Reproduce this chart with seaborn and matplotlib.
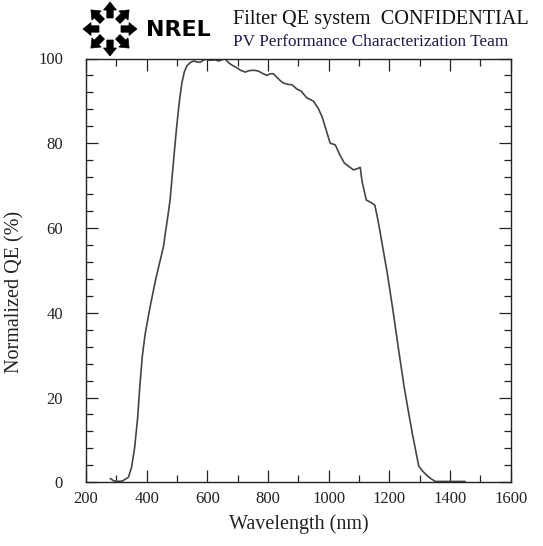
import numpy as np
import pandas as pd
import matplotlib
matplotlib.use("Agg")
import matplotlib.pyplot as plt
from matplotlib.patches import Polygon
from matplotlib.ticker import MultipleLocator
import seaborn as sns

# ---- data ----
wavelength_nm = [280, 290, 300, 320, 340, 350, 360, 370, 378, 386, 395, 411, 430, 455,
                 471, 477, 490, 499, 508, 516, 524, 532, 543, 554, 565, 576, 587, 598,
                 606, 615, 626, 637, 648, 659, 670, 680, 697, 710, 725, 736, 747, 758,
                 769, 782, 796, 807, 818, 830, 840, 851, 865, 879, 895, 909, 928, 940,
                 950, 965, 978, 990, 1005, 1015, 1022, 1035, 1051, 1065, 1082, 1094,
                 1104, 1110, 1124, 1140, 1152, 1162, 1172, 1193, 1211, 1230, 1249, 1262,
                 1276, 1297, 1310, 1324, 1338, 1352, 1400, 1450]
qe_percent = [0.9, 0.4, 0.2, 0.3, 1.2, 3.5, 8.0, 15.0, 23.2, 30.0, 35.0, 41.3, 48.0, 55.5,
              63.4, 66.5, 77.0, 84.0, 90.0, 94.2, 96.8, 98.2, 99.0, 99.4, 99.2, 99.1, 99.6, 99.9,
              99.6, 99.6, 99.7, 99.4, 99.7, 99.9, 99.0, 98.5, 97.8, 97.2, 96.8, 97.1, 97.2, 97.2,
              97.0, 96.5, 96.0, 96.4, 96.4, 95.5, 94.8, 94.2, 93.9, 93.8, 92.8, 92.3, 90.7, 90.3,
              89.9, 88.3, 86.3, 83.5, 80.0, 79.8, 79.6, 77.5, 75.4, 74.6, 73.7, 74.0,
              74.3, 71.0, 66.6, 66.0, 65.4, 62.0, 58.0, 49.4, 41.0, 31.5, 22.4, 17.0,
              11.4, 3.8, 2.6, 1.6, 0.8, 0.2, 0.2, 0.2]
x_ticks = [200, 400, 600, 800, 1000, 1200, 1400, 1600]
y_ticks = [0, 20, 40, 60, 80, 100]
title_line1 = "Filter QE system  CONFIDENTIAL"
title_line2 = "PV Performance Characterization Team"
logo_text = "NREL"

df = pd.DataFrame({"Wavelength (nm)": wavelength_nm, "Normalized QE (%)": qe_percent})

sns.set_theme(style="ticks")
plt.rcParams["font.family"] = ["Liberation Serif", "DejaVu Serif"]

W, H = 543, 546
fig = plt.figure(figsize=(W / 100, H / 100), dpi=100)
fig.patch.set_facecolor("white")

# axes box in pixel terms: left 86, right 510.7, top 58.5, bottom 482.3
L, R, T, B = 86, 510.7, 58.5, 482.3
ax = fig.add_axes([L / W, 1 - B / H, (R - L) / W, (B - T) / H])
ax.set_facecolor("white")

sns.lineplot(data=df, x="Wavelength (nm)", y="Normalized QE (%)", ax=ax,
             color="#444444", linewidth=1.2, sort=False)

ax.set_xlim(200, 1600)
ax.set_ylim(0, 100)
ax.set_xticks(x_ticks)
ax.set_yticks(y_ticks)
ax.xaxis.set_minor_locator(MultipleLocator(100))
ax.yaxis.set_minor_locator(MultipleLocator(4))

for s in ax.spines.values():
    s.set_visible(True)
    s.set_color("#222222")
    s.set_linewidth(1.0)

ax.tick_params(which="both", direction="in", top=True, right=True, colors="#222222",
               width=0.9, labelsize=12, labelcolor="#222222")
ax.tick_params(which="major", length=8.5)
ax.tick_params(which="minor", length=5)
ax.tick_params(axis="x", which="major", pad=6)
ax.tick_params(axis="y", which="major", pad=16.5)

ax.set_xlabel("Wavelength (nm)", fontsize=14.5, color="#222222")
ax.set_ylabel("Normalized QE (%)", fontsize=14.5, color="#222222")
ax.xaxis.set_label_coords(0.5, -0.075)
ax.yaxis.set_label_coords(-0.145, 0.45)

# ---- header text ----
fig.text(233 / W, 1 - 24 / H, title_line1, fontsize=14.6, color="#111111",
         ha="left", va="baseline")
fig.text(233 / W, 1 - 46 / H, title_line2, fontsize=12.4, color="#1a1a4a",
         ha="left", va="baseline")

# ---- NREL logo (decoration) ----
lx0, lx1, ly0, ly1 = 80, 220, 0, 58
lax = fig.add_axes([lx0 / W, 1 - ly1 / H, (lx1 - lx0) / W, (ly1 - ly0) / H])
lax.set_xlim(lx0, lx1)
lax.set_ylim(ly1, ly0)
lax.axis("off")
cx, cy = 110, 29
for k in range(8):
    th = np.deg2rad(45 * k)
    ux, uy = np.cos(th), np.sin(th)
    px, py = -uy, ux
    pts = []
    for r, w in [(11, 3.2), (19, 3.2), (19, 6.5), (27, 0), (19, -6.5), (19, -3.2), (11, -3.2)]:
        pts.append((cx + r * ux + w * px, cy + r * uy + w * py))
    lax.add_patch(Polygon(pts, closed=True, facecolor="black", edgecolor="black", lw=0.5))
lax.text(146, 30, logo_text, fontsize=16, fontweight="heavy", family="DejaVu Sans",
         ha="left", va="center", color="black")

fig.savefig("out.png", dpi=100, facecolor="white")
